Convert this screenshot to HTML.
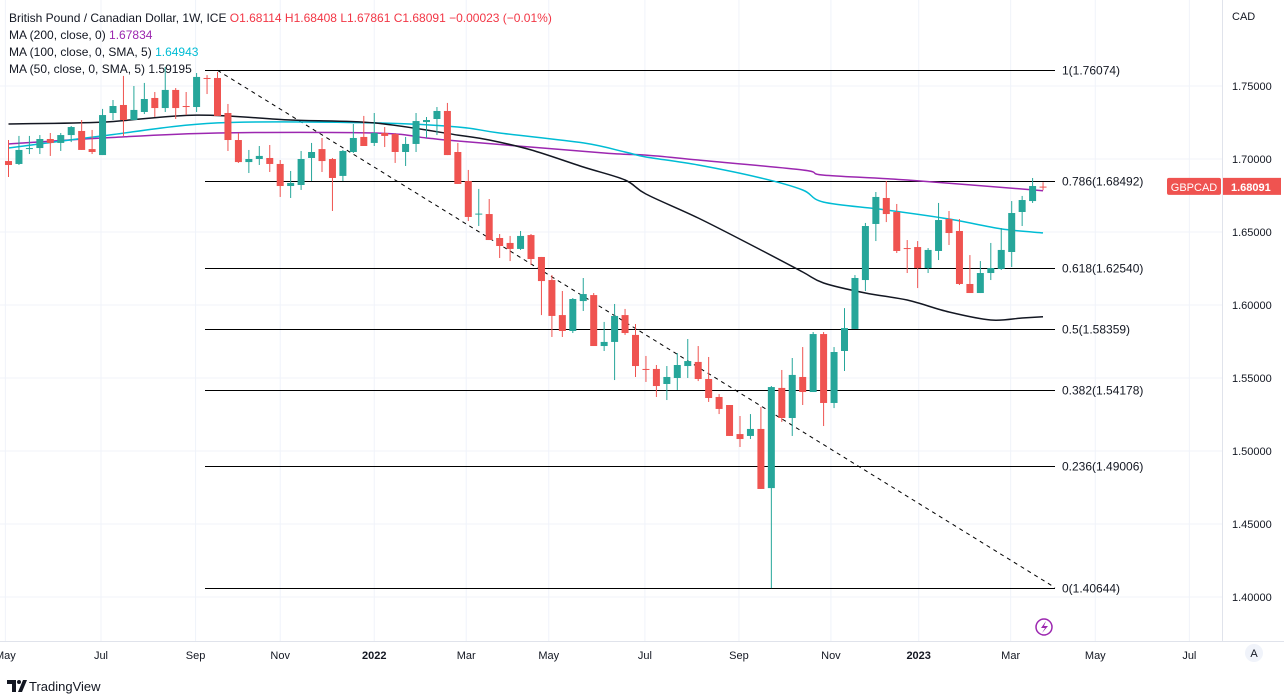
<!DOCTYPE html>
<html><head><meta charset="utf-8">
<style>
html,body{margin:0;padding:0;background:#fff;width:1284px;height:698px;overflow:hidden;font-family:"Liberation Sans",sans-serif;}
svg text{font-family:"Liberation Sans",sans-serif;}
</style></head>
<body>
<svg id="chart" width="1284" height="698" viewBox="0 0 1284 698" xmlns="http://www.w3.org/2000/svg">
<defs><clipPath id="plotClip"><rect x="0" y="0" width="1222" height="641"/></clipPath></defs>
<g id="grid"></g>
<g id="plot" clip-path="url(#plotClip)"></g>
<g id="axes"></g>
<g id="legend">
<text x="9" y="22" font-size="12" fill="#131722">British Pound / Canadian Dollar, 1W, ICE <tspan fill="#f23645">O1.68114 H1.68408 L1.67861 C1.68091 −0.00023 (−0.01%)</tspan></text>
<text x="9" y="39" font-size="12" fill="#131722">MA (200, close, 0) <tspan fill="#9c27b0">1.67834</tspan></text>
<text x="9" y="56" font-size="12" fill="#131722">MA (100, close, 0, SMA, 5) <tspan fill="#00bcd4">1.64943</tspan></text>
<text x="9" y="73" font-size="12" fill="#131722">MA (50, close, 0, SMA, 5) <tspan fill="#131722">1.59195</tspan></text>
</g>
</svg>
<script>
const opens=[1.6986,1.6966,1.7068,1.7075,1.7137,1.7110,1.7164,1.7192,1.7068,1.7027,1.7315,1.7370,1.7267,1.7322,1.7418,1.7349,1.7473,1.7363,1.7356,1.7555,1.7555,1.7315,1.7130,1.6979,1.7000,1.7007,1.6966,1.6815,1.6822,1.7007,1.7068,1.7000,1.6884,1.7048,1.7151,1.7110,1.7178,1.7171,1.7048,1.7103,1.7253,1.7274,1.7329,1.7048,1.6849,1.6623,1.6623,1.6459,1.6425,1.6384,1.6479,1.6329,1.6171,1.5931,1.5822,1.6027,1.6068,1.5719,1.5747,1.5931,1.5795,1.5562,1.5562,1.5459,1.5500,1.5582,1.5610,1.5493,1.5370,1.5315,1.5116,1.5103,1.5151,1.4746,1.5432,1.5226,1.5507,1.5404,1.5801,1.5329,1.5685,1.5836,1.6171,1.6555,1.6733,1.6637,1.6390,1.6397,1.6253,1.6370,1.6589,1.6507,1.6144,1.6082,1.6219,1.6247,1.6363,1.6637,1.6712,1.6811];
const highs=[1.7130,1.7158,1.7158,1.7164,1.7178,1.7178,1.7226,1.7267,1.7199,1.7343,1.7404,1.7569,1.7500,1.7521,1.7459,1.7630,1.7486,1.7459,1.7589,1.7575,1.7596,1.7377,1.7178,1.7062,1.7089,1.7096,1.6993,1.6918,1.7055,1.7110,1.7144,1.7007,1.7062,1.7240,1.7295,1.7315,1.7219,1.7178,1.7151,1.7315,1.7288,1.7356,1.7384,1.7110,1.6925,1.6795,1.6726,1.6486,1.6473,1.6507,1.6486,1.6329,1.6205,1.6096,1.6048,1.6185,1.6082,1.5884,1.6007,1.5973,1.5870,1.5651,1.5589,1.5582,1.5671,1.5767,1.5719,1.5644,1.5390,1.5315,1.5240,1.5253,1.5301,1.5445,1.5555,1.5637,1.5712,1.5815,1.5815,1.5712,1.5979,1.6205,1.6562,1.6774,1.6849,1.6692,1.6445,1.6438,1.6390,1.6699,1.6644,1.6589,1.6342,1.6301,1.6425,1.6527,1.6712,1.6747,1.6870,1.6841];
const lows=[1.6877,1.6959,1.7034,1.7034,1.7021,1.7055,1.7116,1.7062,1.7034,1.7027,1.7267,1.7158,1.7267,1.7308,1.7288,1.7322,1.7274,1.7301,1.7322,1.7445,1.7295,1.7055,1.6973,1.6904,1.6959,1.6911,1.6740,1.6733,1.6788,1.6849,1.6911,1.6644,1.6849,1.7041,1.7089,1.7089,1.7082,1.6973,1.6952,1.7048,1.7144,1.7164,1.7027,1.6829,1.6575,1.6541,1.6445,1.6322,1.6301,1.6377,1.6274,1.5931,1.5781,1.5781,1.5808,1.5959,1.5719,1.5685,1.5486,1.5795,1.5507,1.5473,1.5370,1.5349,1.5418,1.5500,1.5479,1.5336,1.5253,1.5103,1.5027,1.5082,1.4740,1.4061,1.5199,1.5103,1.5315,1.5404,1.5171,1.5294,1.5548,1.5836,1.6096,1.6438,1.6568,1.6356,1.6219,1.6116,1.6219,1.6308,1.6411,1.6137,1.6082,1.6082,1.6171,1.6240,1.6260,1.6541,1.6699,1.6786];
const closes=[1.6959,1.7062,1.7075,1.7137,1.7110,1.7164,1.7219,1.7062,1.7048,1.7301,1.7363,1.7267,1.7336,1.7411,1.7349,1.7473,1.7349,1.7356,1.7562,1.7548,1.7295,1.7130,1.6979,1.7000,1.7021,1.6966,1.6815,1.6836,1.7000,1.7048,1.6986,1.6870,1.7055,1.7144,1.7089,1.7178,1.7158,1.7048,1.7103,1.7260,1.7267,1.7329,1.7027,1.6829,1.6603,1.6626,1.6445,1.6404,1.6384,1.6473,1.6315,1.6164,1.5925,1.5822,1.6041,1.6075,1.5719,1.5747,1.5925,1.5808,1.5582,1.5555,1.5445,1.5507,1.5589,1.5616,1.5493,1.5363,1.5288,1.5103,1.5082,1.5151,1.4740,1.5438,1.5226,1.5521,1.5404,1.5801,1.5329,1.5678,1.5842,1.6185,1.6541,1.6740,1.6623,1.6370,1.6384,1.6253,1.6377,1.6582,1.6493,1.6144,1.6082,1.6219,1.6253,1.6377,1.6630,1.6719,1.6815,1.6809];
const ma50Idx=[0,9,18,27,35,43,46,50,55,59,61,66,72,76,78,82,86,90,94,97,99];
const ma50Val=[1.7240,1.7253,1.7301,1.7267,1.7247,1.7164,1.7130,1.7062,1.6945,1.6856,1.6760,1.6596,1.6377,1.6226,1.6151,1.6082,1.6034,1.5952,1.5897,1.5911,1.5920];
const ma100Idx=[0,9,20,35,43,47,55,59,61,66,72,76,78,84,90,95,99];
const ma100Val=[1.7075,1.7158,1.7247,1.7247,1.7219,1.7178,1.7110,1.7048,1.7014,1.6959,1.6870,1.6788,1.6705,1.6651,1.6589,1.6521,1.6494];
const ma200Idx=[0,9,20,35,40,43,57,61,66,76,78,86,99];
const ma200Val=[1.7103,1.7144,1.7178,1.7178,1.7144,1.7123,1.7041,1.7027,1.6993,1.6925,1.6890,1.6856,1.6783];
const fibRatios=["1","0.786","0.618","0.5","0.382","0.236","0"];
const fibPrices=[1.76074,1.68492,1.62540,1.58359,1.54178,1.49006,1.40644];
const priceTicks=[1.40,1.45,1.50,1.55,1.60,1.65,1.70,1.75];
const timeLabels=["May","Jul","Sep","Nov","2022","Mar","May","Jul","Sep","Nov","2023","Mar","May","Jul"];
const timeLabelIdx=[-0.3,8.85,17.9,26,35,43.8,51.7,60.9,69.9,78.7,87.1,95.9,104,113];
const lastPrice=1.68091;

const NS="http://www.w3.org/2000/svg";
const xOf=i=>8.5+i*10.45;
const yOf=p=>159+(1.70-p)*1460;
function mk(tag,attrs,parent){const e=document.createElementNS(NS,tag);for(const k in attrs)e.setAttribute(k,attrs[k]);parent.appendChild(e);return e;}
const grid=document.getElementById('grid'),plot=document.getElementById('plot'),axes=document.getElementById('axes');

priceTicks.forEach(p=>{const l=mk('line',{x1:0,x2:1222,y1:yOf(p),y2:yOf(p),stroke:'#f0f3fa','stroke-width':1},grid);

});
timeLabelIdx.forEach(i=>{const l=mk('line',{x1:xOf(i),x2:xOf(i),y1:0,y2:641,stroke:'#f0f3fa','stroke-width':1},grid);

});

fibPrices.forEach((p,k)=>{const y=Math.round(yOf(p))+0.5;
const l=mk('line',{x1:205,x2:1055,y1:y,y2:y,stroke:'#000','stroke-width':1},plot);


const t=mk('text',{x:1062,y:y+4,'font-size':12,fill:'#131722'},plot);t.textContent=fibRatios[k]+'('+p.toFixed(5)+')';

});
const dl=mk('line',{x1:xOf(20),y1:yOf(fibPrices[0]),x2:1055,y2:yOf(fibPrices[6]),stroke:'#000','stroke-width':1,'stroke-dasharray':'4,4'},plot);



function maLine(idx,val,color,name){
const P=idx.map((i,k)=>[xOf(i),yOf(val[k])]);
let d='M'+P[0][0].toFixed(1)+' '+P[0][1].toFixed(1);
for(let k=0;k<P.length-1;k++){const p0=P[Math.max(0,k-1)],p1=P[k],p2=P[k+1],p3=P[Math.min(P.length-1,k+2)];
const c1x=p1[0]+(p2[0]-p0[0])/6,c1y=p1[1]+(p2[1]-p0[1])/6,c2x=p2[0]-(p3[0]-p1[0])/6,c2y=p2[1]-(p3[1]-p1[1])/6;
d+=' C'+c1x.toFixed(1)+' '+c1y.toFixed(1)+' '+c2x.toFixed(1)+' '+c2y.toFixed(1)+' '+p2[0].toFixed(1)+' '+p2[1].toFixed(1);}
const pl=mk('path',{d:d,fill:'none',stroke:color,'stroke-width':1.5,'stroke-linejoin':'round'},plot);

}
maLine(ma200Idx,ma200Val,'#9c27b0','ma200-line');
maLine(ma100Idx,ma100Val,'#00bcd4','ma100-line');
maLine(ma50Idx,ma50Val,'#131722','ma50-line');

opens.forEach((o,i)=>{const c=closes[i],x=xOf(i),up=c>=o,col=up?'#26a69a':'#ef5350';
const g=mk('g',{},plot);


mk('line',{x1:x,x2:x,y1:yOf(highs[i]),y2:yOf(lows[i]),stroke:col,'stroke-width':1},g);
const yt=yOf(Math.max(o,c)),yb=yOf(Math.min(o,c));
mk('rect',{x:x-3.5,y:yt,width:7,height:Math.max(1,yb-yt),fill:col},g);});

mk('line',{x1:1222.5,x2:1222.5,y1:0,y2:641,stroke:'#e0e3eb'},axes);
mk('line',{x1:0,x2:1284,y1:641.5,y2:641.5,stroke:'#e0e3eb'},axes);
const cad=mk('text',{x:1232,y:20,'font-size':11,fill:'#131722'},axes);cad.textContent='CAD';


priceTicks.forEach(p=>{const t=mk('text',{x:1232,y:yOf(p)+4,'font-size':11,fill:'#131722'},axes);t.textContent=p.toFixed(5);

});
timeLabels.forEach((s,k)=>{const t=mk('text',{x:xOf(timeLabelIdx[k]),y:659,'font-size':11,fill:'#131722','text-anchor':'middle','font-weight':(s.length===4&&s[0]==='2')?'bold':'normal'},axes);t.textContent=s;

});
const ly=yOf(lastPrice);
const tg=mk('g',{},axes);


mk('rect',{x:1167,y:ly-9,width:54,height:17,fill:'#ef5350',rx:2},tg);
const t1=mk('text',{x:1194,y:ly+4,'font-size':11,fill:'#fff','text-anchor':'middle'},tg);t1.textContent='GBPCAD';
mk('rect',{x:1223,y:ly-9,width:58,height:17,fill:'#ef5350'},tg);
const t2=mk('text',{x:1231,y:ly+4,'font-size':11,fill:'#fff','font-weight':'bold'},tg);t2.textContent=lastPrice.toFixed(5);
const ab=mk('circle',{cx:1254,cy:653,r:9,fill:'#f0f3fa'},axes);


const at=mk('text',{x:1254,y:657,'font-size':11,fill:'#131722','text-anchor':'middle'},axes);at.textContent='A';
const li=mk('circle',{cx:1044,cy:627,r:8,fill:'none',stroke:'#9c27b0','stroke-width':1.5},axes);


mk('path',{d:'M1046 621 L1041 628 L1045 628 L1042 633 L1048 626 L1044 626 Z',fill:'#9c27b0'},axes);
const lg=mk('g',{},axes);


mk('path',{d:'M7 680 h9 v12 h-4 v-8 h-5 z M18 692 l5 -12 h4 l-5 12 z',fill:'#131722'},lg);
mk('circle',{cx:19,cy:682,r:2,fill:'#131722'},lg);
const lt=mk('text',{x:29,y:691,'font-size':13,fill:'#131722'},lg);lt.textContent='TradingView';
</script>
</body></html>
